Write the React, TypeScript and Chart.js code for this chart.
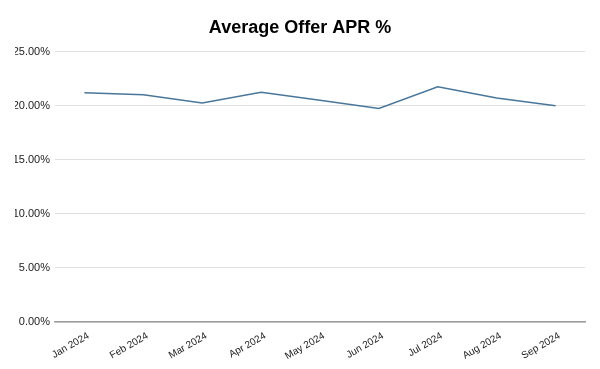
import React, { useEffect, useRef } from "react";
import { Chart, registerables } from "chart.js";

Chart.register(...registerables);

const months = ["Jan 2024", "Feb 2024", "Mar 2024", "Apr 2024", "May 2024", "Jun 2024", "Jul 2024", "Aug 2024", "Sep 2024"];
const aprValues = [21.2, 21.0, 20.25, 21.25, 20.5, 19.75, 21.75, 20.7, 20.0];
const yTicks = [0, 5, 10, 15, 20, 25];

export default function App() {
  const ref = useRef<HTMLCanvasElement | null>(null);
  useEffect(() => {
    document.body.style.margin = "0";
    const ctx = ref.current!;
    const chart = new Chart(ctx, {
      type: "line",
      data: {
        labels: months,
        datasets: [
          {
            label: "Average Offer APR %",
            data: aprValues,
            borderColor: "#4a7699",
            borderWidth: 1.5,
            pointRadius: 0,
            tension: 0,
            fill: false,
          },
        ],
      },
      options: {
        animation: false,
        responsive: false,
        maintainAspectRatio: false,
        layout: { padding: { left: 15, right: 15, top: 0, bottom: 0 } },
        plugins: {
          legend: { display: false },
          tooltip: { enabled: false },
          title: {
            display: true,
            text: "Average Offer APR %",
            color: "#000",
            font: { family: "Liberation Sans, Arial, sans-serif", size: 18, weight: "bold" },
            padding: { top: 17, bottom: 13 },
          },
        },
        scales: {
          x: {
            offset: true,
            grid: { display: false },
            border: { display: true, color: "#9e9e9e", width: 1.5 },
            ticks: {
              color: "#222",
              font: { family: "Liberation Sans, Arial, sans-serif", size: 10 },
              minRotation: 30,
              maxRotation: 30,
              padding: 0,
              labelOffset: 4,
            },
            afterFit: (s: any) => {
              s.height = 47;
            },
          },
          y: {
            min: 0,
            max: 25,
            afterBuildTicks: (s: any) => {
              s.ticks = yTicks.map((v) => ({ value: v }));
            },
            grid: { color: "#e0e0e0", drawTicks: false },
            border: { display: false },
            ticks: {
              color: "#222",
              font: { family: "Liberation Sans, Arial, sans-serif", size: 11 },
              padding: 5,
              callback: (v: any) => Number(v).toFixed(2) + "%",
            },
            afterFit: (s: any) => {
              s.width = 40;
            },
          },
        },
      },
    });
    return () => chart.destroy();
  }, []);
  return (
    <div style={{ width: 600, height: 369 }}>
      <canvas ref={ref} width={600} height={369} style={{ display: "block" }} />
    </div>
  );
}
